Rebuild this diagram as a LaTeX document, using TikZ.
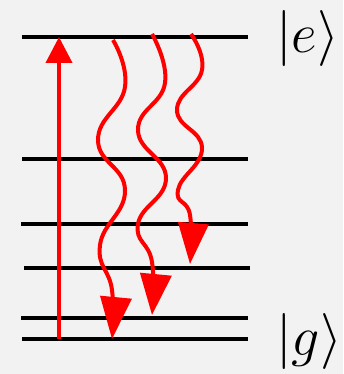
\RequirePackage{fix-cm}
\documentclass[tikz,border=0pt]{standalone}
\usepackage{xcolor}
\usepackage{tikz}
\usetikzlibrary{arrows.meta}
\usepackage{amsmath, amssymb, bm}

\definecolor{bggray}{HTML}{F2F2F2}

\begin{document}
\begin{tikzpicture}[x=1pt, y=-1pt]

\fill[bggray] (0,0) rectangle (343,374);
\useasboundingbox (0,0) rectangle (343,374);

% levels
\draw[line width=4pt] (22,37) -- (248,37); % e
\draw[line width=4pt] (22,159) -- (248,159);
\draw[line width=4pt] (21,224) -- (248,224);
\draw[line width=4pt] (24,268) -- (250,268);
\draw[line width=4pt] (21,318) -- (248,318);
\draw[line width=4pt] (22,339) -- (248,339); % g

% pump
\draw[red, line width=4pt, -{Triangle[width=26pt,length=26pt]}] (59,339) -- (59,37);

% decay
\draw[red, line width=4pt, -{Triangle[width=31pt,length=42pt]}]
  plot[smooth, tension=0.8] coordinates {(113,40) (125,87) (98,140) (125,190) (100,245) (112,290) (112,339)};
\draw[red, line width=4pt, -{Triangle[width=31pt,length=41pt]}]
  plot[smooth, tension=0.8] coordinates {(152,34) (165,83) (138,130) (166,178) (138,224) (152,262) (152,315)};
\draw[red, line width=4pt, -{Triangle[width=30pt,length=41pt]}]
  plot[smooth, tension=0.8] coordinates {(191,34) (202,70) (177,110) (202,148) (178,190) (190,215) (190,264)};

\node[anchor=west, inner sep=0pt] (ket e) at (276,39) {\fontsize{56}{60}\selectfont $|e\rangle$};
\node[anchor=west, inner sep=0pt] (ket g) at (276,341) {\fontsize{56}{60}\selectfont $|g\rangle$};

\end{tikzpicture}
\end{document}
